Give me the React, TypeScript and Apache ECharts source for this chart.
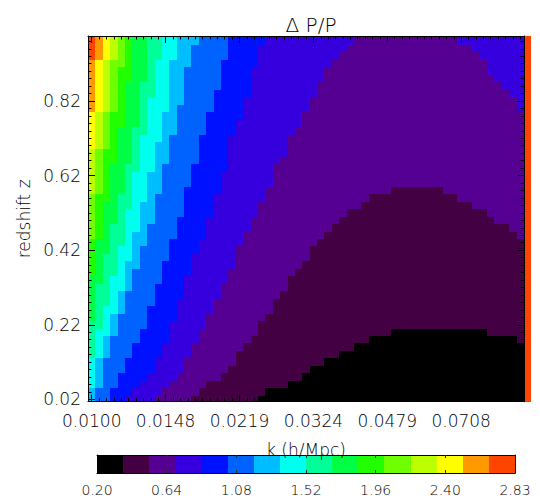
import { useEffect, useRef } from "react";
import * as echarts from "echarts";

// ---- axis ticks / labels ----
const kTickColumns = [0, 10, 20, 30, 40, 50];
const kTickLabels = ["0.0100", "0.0148", "0.0219", "0.0324", "0.0479", "0.0708"];
const zTickRows = [0, 10, 20, 30, 40];
const zTickLabels = ["0.02", "0.22", "0.42", "0.62", "0.82"];
const colorbarLabels = ["0.20", "0.64", "1.08", "1.52", "1.96", "2.40", "2.83"];
const valueMin = 0.2;
const valueMax = 2.83;

// 16 contour level colours (black -> red)
const levelColors = [
  "#000000", "#430042", "#560093", "#3500dd", "#0011ff", "#0062ff", "#00bdff", "#00ffee",
  "#00ff98", "#00ff44", "#22ff00", "#70ff00", "#bbff00", "#ffff00", "#ff9900", "#ff4400",
];

// grid: 59 k columns inside the frame (+1 spilled column), 49 z rows (z = 0.02 .. 0.98)
const nColsInside = 59;
const nRows = 49;
const spillColumnLevel = 15;

// For each row r (z index 0..48, bottom to top): first column whose level is below L
const edge15 = [0,0,0,0,0,0,0,0,0,0,0,0,0,0,0,0,0,0,0,0,0,0,0,0,0,0,0,0,0,0,0,0,0,0,0,0,0,0,0,0,0,0,0,0,0,0,1,1,1];
const edge14 = [0,0,0,0,0,0,0,0,0,0,0,0,0,0,0,0,0,0,0,0,0,0,0,0,0,0,0,0,0,0,0,0,0,0,0,0,0,0,0,1,1,1,1,1,1,1,2,2,2];
const edge13 = [0,0,0,0,0,0,0,0,0,0,0,0,0,0,0,0,0,0,0,0,0,0,0,0,0,0,0,0,0,0,0,0,0,0,1,1,1,1,1,2,2,2,2,2,2,2,3,3,3];
const edge12 = [0,0,0,0,0,0,0,0,0,0,0,0,0,0,0,0,0,0,0,0,0,0,0,0,0,0,0,0,1,1,1,1,1,1,2,2,2,2,2,3,3,3,3,3,3,3,4,4,4];
const edge11 = [0,0,0,0,0,0,0,0,0,0,0,0,0,0,0,0,0,0,0,0,0,0,1,1,1,1,1,1,2,2,2,2,2,2,3,3,3,3,3,4,4,4,4,4,4,5,5,5,5];
const edge10 = [0,0,0,0,0,0,0,0,0,0,0,0,0,0,0,0,0,1,1,1,1,1,2,2,2,2,2,3,3,3,3,3,4,4,4,4,4,5,5,5,5,5,5,6,6,6,6,6,6];
const edge9 = [0,0,0,0,0,0,0,0,0,0,0,1,1,1,1,1,2,2,2,2,3,3,3,3,4,4,4,4,5,5,5,5,6,6,6,6,6,7,7,7,7,7,7,8,8,8,8,8,8];
const edge8 = [0,0,0,0,0,0,1,1,1,1,2,2,2,3,3,3,3,4,4,4,4,5,5,5,5,5,6,6,6,6,6,7,7,7,7,7,8,8,8,8,8,9,9,9,9,9,10,10,10];
const edge7 = [0,0,1,1,1,1,2,2,2,3,3,3,4,4,4,5,5,5,5,6,6,6,6,7,7,7,7,8,8,8,8,9,9,9,9,10,10,10,10,11,11,11,11,11,11,11,12,12,12];
const edge6 = [1,1,2,2,2,2,3,3,3,4,4,4,5,5,5,6,6,6,7,7,7,8,8,8,9,9,9,9,10,10,10,10,11,11,11,11,12,12,12,12,13,13,13,13,13,14,14,14,15];
const edge5 = [3,3,4,4,5,5,6,6,7,7,8,8,8,9,9,9,10,10,10,11,11,11,12,12,12,13,13,13,13,14,14,14,15,15,15,15,16,16,16,17,17,17,18,18,18,18,19,19,19];
const edge4 = [5,6,7,8,9,9,10,10,11,11,11,12,12,12,13,13,13,14,14,14,15,15,16,16,16,17,17,17,18,18,18,19,19,19,19,19,20,20,21,21,21,22,22,22,22,23,23,23,24];
const edge3 = [9,10,11,12,13,13,14,14,15,15,16,16,17,17,18,18,19,19,20,20,20,21,21,22,22,23,23,24,24,25,25,25,26,27,27,27,28,29,29,30,30,31,31,32,32,33,34,35,36];
const edge2 = [14,15,16,18,19,20,20,21,22,23,23,24,25,25,26,27,27,28,29,30,30,31,32,33,34,35,37,38,41,59,59,59,59,59,59,59,59,59,59,59,59,59,59,59,59,59,59,59,59];
const edge1 = [23,24,27,29,30,32,34,36,38,41,59,59,59,59,59,59,59,59,59,59,59,59,59,59,59,59,59,59,59,59,59,59,59,59,59,59,59,59,59,59,59,59,59,59,59,59,59,59,59];
// right-hand side: first column where the level rises again to 1 / 2 / 3
const riseTo1 = [59,59,59,59,59,59,59,59,58,54,59,59,59,59,59,59,59,59,59,59,59,59,59,59,59,59,59,59,59,59,59,59,59,59,59,59,59,59,59,59,59,59,59,59,59,59,59,59,59];
const riseTo2 = [59,59,59,59,59,59,59,59,59,59,59,59,59,59,59,59,59,59,59,59,59,59,58,57,55,54,52,50,48,59,59,59,59,59,59,59,59,59,59,59,59,59,59,59,59,59,59,59,59];
const riseTo3 = [59,59,59,59,59,59,59,59,59,59,59,59,59,59,59,59,59,59,59,59,59,59,59,59,59,59,59,59,59,59,59,59,59,59,59,59,59,59,59,58,58,57,56,55,54,54,53,52,50];

const edges = [edge1, edge2, edge3, edge4, edge5, edge6, edge7, edge8, edge9, edge10, edge11, edge12, edge13, edge14, edge15];

const X_MIN = -0.5;
const X_MAX = 58.5;
const Y_MIN = -0.31;
const Y_MAX = 48.71;
const FONT = "'DejaVu Sans', sans-serif";

function levelAt(c: number, r: number): number {
  if (c >= nColsInside) return spillColumnLevel;
  let base = 0;
  for (const e of edges) if (c < e[r]) base++;
  let rise = 0;
  if (c >= riseTo3[r]) rise = 3;
  else if (c >= riseTo2[r]) rise = 2;
  else if (c >= riseTo1[r]) rise = 1;
  return Math.max(base, rise);
}

function levelValue(l: number): number {
  return valueMin + ((l + 0.5) * (valueMax - valueMin)) / 16;
}

const cells: number[][] = [];
for (let r = 0; r < nRows; r++) {
  for (let c = 0; c <= nColsInside; c++) {
    const l = levelAt(c, r);
    cells.push([c, r, levelValue(l), l]);
  }
}
const colorbarCells = levelColors.map((_, i) => [i, levelValue(i), i]);

const range = (n: number) => Array.from({ length: n }, (_, i) => i);

export default function App() {
  const ref = useRef<HTMLDivElement>(null);
  useEffect(() => {
    document.body.style.margin = "0";
    if (!ref.current) return;
    const chart = echarts.init(ref.current, undefined, { renderer: "svg" });
    const axisLine = { show: true, onZero: false, lineStyle: { color: "#000", width: 1 } };
    const noLine = { show: false, onZero: false };
    const labelStyle = { color: "#000", fontSize: 17, fontFamily: FONT, fontWeight: 200 };
    const cbTicks = [1, 2, 3, 4, 5].map((i) => (16 * i) / 6);
    const cbLabelPos = range(7).map((i) => (16 * i) / 6);
    const xBase = { type: "value", gridIndex: 0, min: X_MIN, max: X_MAX, splitLine: { show: false }, z: 10 };
    const yBase = { type: "value", gridIndex: 0, min: Y_MIN, max: Y_MAX, splitLine: { show: false }, z: 10 };
    const tick = (len: number, values: number[]) => ({
      inside: true,
      length: len,
      customValues: values,
      lineStyle: { color: "#000", width: 1 },
    });
    chart.setOption({
      animation: false,
      title: {
        text: "Δ P/P",
        left: 306,
        top: 10,
        textAlign: "center",
        textStyle: { fontSize: 20, fontWeight: 200, color: "#000", fontFamily: FONT },
      },
      grid: [
        { left: 88, top: 36, width: 436, height: 365.7 },
        { left: 97, top: 455, width: 418, height: 18 },
      ],
      xAxis: [
        {
          ...xBase,
          position: "bottom",
          axisLine,
          axisTick: tick(7, kTickColumns),
          axisLabel: {
            ...labelStyle,
            margin: 11,
            customValues: kTickColumns,
            formatter: (v: number) => kTickLabels[kTickColumns.indexOf(Math.round(v))] ?? "",
          },
          name: "k (h/Mpc)",
          nameLocation: "middle",
          nameGap: 40,
          nameTextStyle: { ...labelStyle },
        },
        { ...xBase, position: "bottom", axisLine: noLine, axisTick: tick(3.5, range(nColsInside)), axisLabel: { show: false } },
        { ...xBase, position: "top", axisLine, axisTick: tick(7, kTickColumns), axisLabel: { show: false } },
        { ...xBase, position: "top", axisLine: noLine, axisTick: tick(3.5, range(nColsInside)), axisLabel: { show: false } },
        {
          type: "value",
          gridIndex: 1,
          min: 0,
          max: 16,
          position: "bottom",
          splitLine: { show: false },
          axisLine,
          z: 10,
          axisTick: { inside: true, length: 3, customValues: cbTicks, lineStyle: { color: "#333" } },
          axisLabel: {
            color: "#000",
            fontSize: 14,
            fontFamily: FONT,
            fontWeight: 200,
            margin: 10,
            customValues: cbLabelPos,
            formatter: (v: number) => colorbarLabels[Math.round((v * 6) / 16)] ?? "",
          },
        },
        {
          type: "value",
          gridIndex: 1,
          min: 0,
          max: 16,
          position: "top",
          splitLine: { show: false },
          axisLine,
          z: 10,
          axisTick: { inside: true, length: 3, customValues: cbTicks, lineStyle: { color: "#333" } },
          axisLabel: { show: false },
        },
      ],
      yAxis: [
        {
          ...yBase,
          position: "left",
          axisLine,
          axisTick: tick(7, zTickRows),
          axisLabel: {
            ...labelStyle,
            margin: 7,
            customValues: zTickRows,
            formatter: (v: number) => zTickLabels[zTickRows.indexOf(Math.round(v))] ?? "",
          },
          name: "redshift z",
          nameLocation: "middle",
          nameRotate: 90,
          nameGap: 56,
          nameTextStyle: { ...labelStyle },
        },
        { ...yBase, position: "left", axisLine: noLine, axisTick: tick(3.5, range(nRows)), axisLabel: { show: false } },
        { ...yBase, position: "right", axisLine, axisTick: tick(7, zTickRows), axisLabel: { show: false } },
        { ...yBase, position: "right", axisLine: noLine, axisTick: tick(3.5, range(nRows)), axisLabel: { show: false } },
        { type: "value", gridIndex: 1, min: 0, max: 1, position: "left", axisLine, axisTick: { show: false }, axisLabel: { show: false }, splitLine: { show: false }, z: 10 },
        { type: "value", gridIndex: 1, min: 0, max: 1, position: "right", axisLine, axisTick: { show: false }, axisLabel: { show: false }, splitLine: { show: false }, z: 10 },
      ],
      series: [
        {
          type: "custom",
          xAxisIndex: 0,
          yAxisIndex: 0,
          clip: false,
          z: 1,
          silent: true,
          data: cells,
          renderItem: (_p: any, api: any) => {
            const c = api.value(0);
            const r = api.value(1);
            const l = api.value(3);
            const y0 = r === 0 ? Y_MIN : r - 0.5;
            const y1 = r === nRows - 1 ? Y_MAX : r + 0.5;
            const p0 = api.coord([c - 0.5, y0]);
            const p1 = api.coord([c + 0.5, y1]);
            const left = Math.round(p0[0]);
            const right = Math.round(p1[0]);
            const top = Math.round(p1[1]);
            const bottom = Math.round(p0[1]);
            return {
              type: "rect",
              shape: { x: left, y: top, width: right - left, height: bottom - top },
              style: { fill: levelColors[l] },
            };
          },
        },
        {
          type: "custom",
          xAxisIndex: 4,
          yAxisIndex: 4,
          z: 1,
          silent: true,
          data: colorbarCells,
          renderItem: (_p: any, api: any) => {
            const i = api.value(0);
            const l = api.value(2);
            const p0 = api.coord([i, 0]);
            const p1 = api.coord([i + 1, 1]);
            const left = Math.round(p0[0]);
            const right = Math.round(p1[0]);
            return {
              type: "rect",
              shape: { x: left, y: p1[1], width: right - left, height: p0[1] - p1[1] },
              style: { fill: levelColors[l] },
            };
          },
        },
      ],
    });
    return () => chart.dispose();
  }, []);
  return <div ref={ref} style={{ width: 540, height: 498 }} />;
}
